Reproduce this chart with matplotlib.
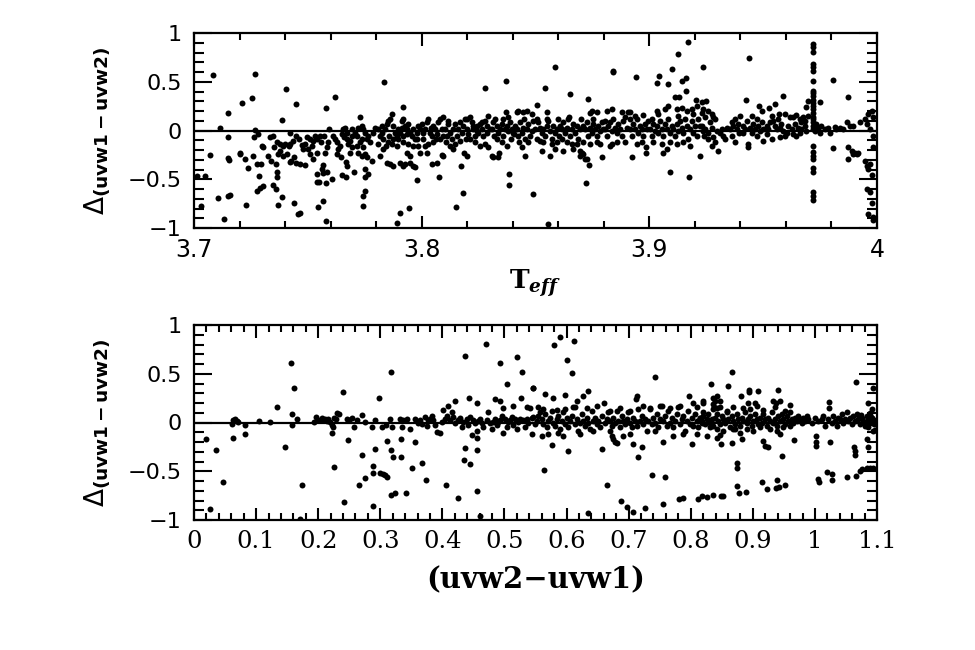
import matplotlib
matplotlib.use("Agg")
import matplotlib.pyplot as plt
from matplotlib.ticker import MultipleLocator

plt.rcParams["mathtext.fontset"] = "dejavusans"

# ---- top panel: Delta(uvw1-uvw2) vs log Teff ----
top_cool = [
    (3.7085, 0.57), (3.7012, -0.47), (3.7048, -0.465), (3.7029, -0.77), (3.707, -0.25),
    (3.7114, 0.03), (3.7148, 0.18), (3.715, -0.07), (3.715, -0.285), (3.7153, -0.30), (3.7107, -0.69),
    (3.715, -0.67), (3.716, -0.66), (3.7132, -0.91),
    (3.720, -0.225), (3.7203, -0.24), (3.7212, 0.285), (3.7224, -0.29), (3.7229, -0.76), (3.7239, -0.38),
    (3.7256, 0.33), (3.7258, -0.26), (3.727, 0.58), (3.7275, -0.34), (3.7294, -0.34), (3.7297, -0.155),
    (3.7304, -0.17), (3.7287, -0.47), (3.7275, -0.62), (3.729, -0.59), (3.7304, -0.565), (3.727, 0.01),
    (3.728, -0.03), (3.7265, -0.07),
    (3.7326, -0.26), (3.7334, -0.07), (3.7348, -0.05), (3.735, -0.17), (3.7359, -0.34), (3.7366, -0.42),
    (3.7366, -0.48), (3.7348, -0.56), (3.7359, -0.60), (3.737, -0.76), (3.7385, -0.68), (3.7385, 0.11),
    (3.7363, -0.12), (3.7378, -0.14), (3.7378, -0.21), (3.7392, -0.155), (3.7398, -0.14), (3.737, -0.24),
    (3.7392, -0.26), (3.734, -0.31),
    (3.7403, 0.43), (3.7448, 0.27), (3.744, -0.74), (3.7466, -0.84), (3.7458, -0.86), (3.7421, -0.32),
    (3.7428, -0.31), (3.7407, -0.24), (3.7416, -0.16), (3.7422, -0.14), (3.7436, -0.105), (3.745, -0.05),
    (3.746, -0.085), (3.745, -0.33), (3.7466, -0.34), (3.7488, -0.35), (3.748, -0.19), (3.7488, -0.14),
    (3.7473, -0.15), (3.7495, -0.07), (3.7422, -0.02), (3.7439, -0.275),
    (3.7546, -0.78), (3.7568, -0.72), (3.7578, -0.93), (3.7539, -0.53), (3.7549, -0.53), (3.7578, -0.54),
    (3.7539, -0.44), (3.7568, -0.43), (3.7586, -0.42), (3.7568, -0.35), (3.756, -0.39), (3.7578, 0.23),
    (3.751, -0.085), (3.7517, -0.155), (3.7524, -0.105), (3.7531, -0.05), (3.7542, -0.085), (3.7553, -0.05),
    (3.7556, -0.12), (3.7539, -0.225), (3.751, -0.24), (3.7502, -0.19), (3.7524, -0.29), (3.7575, -0.225),
    (3.7583, -0.17), (3.759, -0.12), (3.7571, -0.06), (3.7594, 0.015),
    (3.762, 0.34), (3.7605, -0.50), (3.7649, -0.46), (3.7668, -0.48), (3.7668, -0.32), (3.7673, -0.36),
    (3.7612, -0.05), (3.762, -0.085), (3.7627, -0.12), (3.7634, -0.19), (3.7641, -0.155), (3.7649, -0.035),
    (3.7656, 0.015), (3.7659, -0.07), (3.767, -0.02), (3.767, -0.085), (3.7678, -0.14), (3.7685, -0.105),
    (3.7685, -0.225), (3.7692, -0.05), (3.7696, -0.17), (3.7627, -0.24), (3.7644, -0.275), (3.7663, 0.03),
    (3.7696, 0.015),
    (3.7703, -0.42), (3.7729, 0.14), (3.7744, -0.67), (3.7744, -0.77), (3.7707, -0.02), (3.7714, -0.05),
    (3.7722, 0.03), (3.7729, -0.12), (3.7737, -0.085), (3.7714, -0.155), (3.7722, -0.225), (3.7737, -0.26),
    (3.7736, 0.05), (3.7744, 0.015), (3.7751, -0.02), (3.7758, -0.085), (3.7766, -0.05), (3.7773, -0.12),
    (3.7788, -0.02), (3.7795, 0.03), (3.7744, -0.17), (3.7751, -0.24), (3.7758, -0.275), (3.778, -0.31),
    (3.7751, -0.39), (3.7766, -0.445), (3.775, -0.48), (3.7751, -0.62),
    (3.7834, 0.50), (3.789, -0.95), (3.781, 0.015), (3.7817, -0.05), (3.7824, -0.02), (3.7831, -0.085),
    (3.7839, 0.015), (3.7846, 0.065), (3.7854, 0.10), (3.7861, 0.12), (3.7868, 0.17), (3.7876, 0.05),
    (3.7883, -0.02), (3.789, -0.05), (3.7897, 0.015), (3.7843, -0.155), (3.7846, -0.33), (3.7861, -0.34),
    (3.7875, -0.36), (3.7868, -0.14), (3.7817, -0.26), (3.7831, -0.19), (3.7853, -0.12), (3.781, -0.14),
    (3.789, -0.155), (3.7897, -0.085), (3.7824, 0.05), (3.7858, -0.05), (3.7875, -0.085),
    (3.7905, -0.84), (3.7916, 0.245), (3.7912, 0.10), (3.7919, 0.12), (3.7905, -0.33), (3.7916, -0.36),
    (3.7946, -0.79), (3.7927, -0.34), (3.795, -0.33), (3.796, -0.36), (3.797, -0.37), (3.7978, -0.51),
    (3.795, -0.26), (3.7934, -0.225), (3.7993, -0.225), (3.7985, -0.155), (3.7905, -0.02), (3.7912, 0.03),
    (3.7919, -0.05), (3.7927, 0.05), (3.7934, 0.015), (3.7941, 0.065), (3.7949, -0.02), (3.7956, -0.05),
    (3.7963, 0.015), (3.7971, -0.085), (3.7978, -0.02), (3.7985, 0.05), (3.7993, 0.015), (3.8, 0.065),
    (3.7916, -0.12), (3.7941, -0.14), (3.7963, -0.155), (3.7978, -0.085), (3.7934, -0.035),
]

top_mid = [
    (3.8075, -0.48), (3.8044, -0.34), (3.8066, -0.33), (3.8007, -0.085), (3.8015, 0.015), (3.8022, 0.085),
    (3.8029, 0.12), (3.8037, -0.02), (3.8044, -0.05), (3.8051, 0.05), (3.8059, 0.015), (3.8066, -0.035),
    (3.8073, 0.085), (3.808, 0.12), (3.8088, 0.015), (3.8095, 0.135), (3.8015, -0.155), (3.8029, -0.14),
    (3.8051, -0.12), (3.808, -0.085), (3.8022, -0.225), (3.8088, -0.25), (3.8095, -0.26), (3.8007, -0.02),
    (3.8039, 0.03), (3.8063, -0.085), (3.8092, -0.05),
    (3.815, -0.78), (3.8173, -0.36), (3.818, -0.64), (3.8197, -0.26), (3.8187, -0.225), (3.8102, 0.015),
    (3.811, -0.05), (3.8117, 0.065), (3.8124, -0.02), (3.8132, -0.085), (3.8139, 0.015), (3.8146, 0.065),
    (3.8154, -0.05), (3.8161, 0.015), (3.8168, 0.085), (3.8176, -0.02), (3.8183, 0.05), (3.819, 0.12),
    (3.8197, 0.015), (3.8107, -0.12), (3.8124, -0.155), (3.8146, -0.14), (3.8168, -0.105), (3.8117, 0.10),
    (3.8136, -0.19), (3.8195, -0.085),
    (3.828, 0.44), (3.8201, 0.12), (3.8212, 0.135), (3.822, 0.085), (3.8227, 0.015), (3.8234, -0.05),
    (3.8241, 0.05), (3.8249, -0.02), (3.8256, 0.065), (3.8263, 0.015), (3.8271, -0.05), (3.8278, 0.10),
    (3.8285, 0.05), (3.8293, 0.15), (3.83, 0.015), (3.8212, -0.085), (3.8234, -0.12), (3.8256, -0.155),
    (3.8278, -0.14), (3.8293, -0.17), (3.8307, -0.26), (3.8205, -0.035), (3.8224, 0.045), (3.8244, 0.0),
    (3.8266, 0.09), (3.8288, -0.025),
    (3.837, 0.51), (3.837, 0.19), (3.8385, -0.44), (3.8385, -0.555), (3.8315, -0.275), (3.8337, -0.275),
    (3.8341, -0.225), (3.8307, 0.015), (3.8315, 0.085), (3.8322, 0.12), (3.8329, 0.05), (3.8337, -0.02),
    (3.8344, 0.015), (3.8351, 0.065), (3.8358, -0.05), (3.8366, 0.015), (3.8373, 0.05), (3.838, 0.0),
    (3.8388, 0.085), (3.8395, 0.015), (3.8318, -0.05), (3.8332, -0.085), (3.8351, -0.12), (3.8373, -0.155),
    (3.8391, -0.085), (3.8358, 0.12), (3.838, 0.135), (3.84, -0.02),
    (3.8417, 0.19), (3.8425, 0.20), (3.8446, 0.19), (3.8461, 0.20), (3.8454, -0.26), (3.8439, -0.17),
    (3.8487, -0.65), (3.841, 0.05), (3.8417, 0.015), (3.8424, -0.05), (3.8432, 0.085), (3.8439, -0.02),
    (3.8446, 0.03), (3.8454, -0.085), (3.8461, 0.015), (3.8468, 0.065), (3.8476, -0.05), (3.8483, 0.0),
    (3.849, 0.10), (3.8429, -0.12), (3.8449, 0.12), (3.8405, -0.035), (3.8468, -0.12), (3.8483, 0.17),
    (3.8542, 0.44), (3.8586, 0.65), (3.8557, -0.96), (3.8549, 0.195), (3.8508, 0.26), (3.8505, 0.12),
    (3.8513, 0.085), (3.852, 0.03), (3.8527, -0.02), (3.8535, 0.015), (3.8542, -0.05), (3.8549, 0.05),
    (3.8557, 0.10), (3.8564, 0.0), (3.8571, -0.085), (3.8578, 0.05), (3.8586, -0.02), (3.8593, 0.015),
    (3.86, 0.12), (3.8527, -0.21), (3.8564, -0.265), (3.8586, -0.19), (3.8571, -0.14), (3.8535, -0.12),
    (3.8505, -0.085), (3.852, -0.105), (3.8593, -0.12), (3.8498, 0.015), (3.8549, 0.12),
    (3.8652, 0.38), (3.8622, -0.21), (3.8666, -0.19), (3.8696, -0.21), (3.8703, -0.225), (3.871, -0.24),
    (3.8696, -0.26), (3.8718, -0.29), (3.8608, 0.05), (3.8615, 0.015), (3.8622, 0.085), (3.863, -0.02),
    (3.8637, 0.03), (3.8644, 0.12), (3.8652, -0.05), (3.8659, 0.015), (3.8666, 0.065), (3.8674, -0.02),
    (3.8681, 0.05), (3.8688, -0.085), (3.8696, 0.015), (3.8699, 0.12), (3.8615, -0.085), (3.8637, -0.12),
    (3.8659, -0.14), (3.8681, -0.14), (3.8605, -0.05), (3.8649, 0.135),
    (3.8722, -0.54), (3.8732, 0.32), (3.8737, -0.35), (3.8725, -0.29), (3.874, 0.185), (3.8747, 0.20),
    (3.8769, 0.19), (3.871, 0.05), (3.8718, 0.015), (3.8725, 0.085), (3.8732, -0.05), (3.874, 0.03),
    (3.8747, -0.02), (3.8754, 0.065), (3.8761, 0.015), (3.8769, -0.05), (3.8776, 0.05), (3.8783, 0.0),
    (3.879, 0.085), (3.8798, 0.015), (3.871, -0.12), (3.874, -0.14), (3.8769, -0.12), (3.8791, -0.275),
    (3.8783, -0.14), (3.8754, 0.12),
    (3.8839, 0.61), (3.8842, 0.60), (3.8813, 0.20), (3.8835, 0.22), (3.8835, -0.14), (3.8827, -0.16),
    (3.8805, 0.015), (3.8813, -0.05), (3.882, 0.05), (3.8827, 0.085), (3.8835, 0.0), (3.8842, 0.12),
    (3.8849, 0.03), (3.8857, -0.02), (3.8864, 0.065), (3.8871, 0.015), (3.8878, -0.05), (3.8886, 0.10),
    (3.8893, 0.135), (3.89, 0.03), (3.8805, 0.10), (3.8857, -0.12), (3.8893, -0.115), (3.8879, 0.19),
    (3.8908, 0.19),
    (3.8942, 0.55), (3.8923, -0.275), (3.8915, 0.19), (3.8915, 0.015), (3.8923, -0.05), (3.893, 0.065),
    (3.8937, 0.015), (3.8944, 0.12), (3.8952, -0.02), (3.8959, 0.05), (3.8966, 0.015), (3.8974, -0.05),
    (3.8981, 0.065), (3.8988, 0.015), (3.8996, 0.10), (3.8986, -0.17), (3.8986, -0.225), (3.8944, -0.14),
    (3.8966, -0.12), (3.8915, 0.12), (3.8937, 0.15), (3.8974, 0.16),
]

top_hot = [
    (3.9044, 0.56), (3.9035, 0.49), (3.908, 0.48), (3.9098, 0.63), (3.9032, 0.20), (3.904, 0.17),
    (3.9069, 0.22), (3.9083, 0.255), (3.909, -0.42), (3.9062, -0.225), (3.9076, -0.19), (3.9003, 0.015),
    (3.901, -0.05), (3.9018, 0.065), (3.9025, 0.0), (3.9032, 0.05), (3.904, -0.02), (3.9047, 0.10),
    (3.9054, 0.015), (3.9062, -0.05), (3.9069, 0.065), (3.9076, 0.015), (3.9083, 0.12), (3.9091, -0.02),
    (3.9098, 0.05), (3.9018, -0.12), (3.9054, -0.14), (3.9091, -0.12), (3.901, 0.12),
    (3.9127, 0.785), (3.9171, 0.91), (3.9142, 0.51), (3.916, 0.545), (3.916, 0.41), (3.9113, 0.345),
    (3.9132, 0.34), (3.9176, -0.48), (3.912, 0.22), (3.9142, 0.235), (3.9164, 0.20), (3.9186, 0.22),
    (3.9105, 0.015), (3.9113, -0.05), (3.912, 0.065), (3.9127, 0.0), (3.9135, 0.10), (3.9142, 0.03),
    (3.9149, -0.02), (3.9157, 0.12), (3.9164, 0.05), (3.9171, -0.085), (3.9178, 0.015), (3.9186, 0.10),
    (3.9193, -0.02), (3.92, 0.05), (3.912, -0.14), (3.9149, -0.12), (3.9178, -0.155), (3.9127, 0.15),
    (3.9193, 0.17),
    (3.9205, 0.315), (3.9237, 0.65), (3.9223, -0.26), (3.9208, 0.255), (3.9215, 0.12), (3.9222, 0.05),
    (3.923, 0.185), (3.9237, 0.0), (3.9208, -0.05), (3.923, 0.29), (3.9251, 0.30), (3.9237, 0.22),
    (3.9259, 0.20), (3.9273, 0.17), (3.9281, 0.145), (3.9288, 0.12), (3.9266, 0.085), (3.9244, 0.135),
    (3.923, 0.05), (3.9244, 0.015), (3.9259, -0.02), (3.9273, 0.03), (3.9295, 0.0), (3.924, -0.05),
    (3.9259, -0.085), (3.9273, -0.155), (3.9288, -0.12), (3.9302, -0.21), (3.9278, -0.07),
    (3.931, -0.02), (3.9317, 0.015), (3.9325, -0.05), (3.9339, 0.03), (3.9354, 0.015), (3.9361, 0.085),
    (3.9368, 0.05), (3.9376, 0.12), (3.9383, 0.015), (3.939, 0.065), (3.94, 0.15), (3.9376, -0.12),
    (3.9332, -0.085), (3.9361, -0.05), (3.9395, -0.02),
    (3.9439, 0.74), (3.9424, 0.315), (3.9434, -0.14), (3.9434, -0.17), (3.9483, 0.25), (3.9493, 0.20),
    (3.9412, 0.05), (3.942, 0.015), (3.9427, 0.10), (3.9442, 0.03), (3.9449, 0.15), (3.9456, 0.065),
    (3.9464, 0.015), (3.9471, 0.12), (3.9478, 0.05), (3.9486, 0.0), (3.9493, 0.085), (3.95, 0.015),
    (3.9449, -0.02), (3.9471, -0.05), (3.95, -0.105), (3.9412, -0.02),
    (3.9527, 0.23), (3.9551, 0.27), (3.9588, 0.36), (3.9537, 0.15), (3.9573, 0.03), (3.9515, 0.05),
    (3.9522, 0.015), (3.953, 0.085), (3.9544, 0.10), (3.9559, 0.015), (3.9566, 0.12), (3.958, 0.065),
    (3.9588, 0.0), (3.9595, 0.17), (3.9515, -0.035), (3.9537, -0.085), (3.9573, -0.07), (3.9595, -0.05),
    (3.9551, 0.05), (3.957, 0.17),
    (3.969, 0.24), (3.9698, 0.305), (3.9617, 0.135), (3.9632, 0.145), (3.9646, 0.16), (3.9661, 0.12),
    (3.9668, 0.085), (3.9676, 0.135), (3.9683, 0.10), (3.9698, 0.15), (3.961, 0.05), (3.9625, 0.015),
    (3.9639, 0.065), (3.9654, 0.03), (3.9668, 0.015), (3.9683, 0.05), (3.9603, -0.02), (3.9632, -0.035),
    (3.9661, -0.02), (3.969, 0.0), (3.9646, -0.05),
    (3.9749, 0.29), (3.9808, 0.52), (3.9742, 0.03), (3.9756, 0.05), (3.9771, 0.015), (3.9786, 0.03),
    (3.9793, -0.02), (3.9749, -0.02), (3.9805, -0.18), (3.9727, 0.0), (3.9734, 0.065),
    (3.9874, 0.34), (3.9866, 0.09), (3.9874, -0.17), (3.9888, -0.21), (3.9895, -0.24), (3.9903, -0.23),
    (3.991, -0.24), (3.9917, -0.225), (3.9874, -0.29), (3.9837, 0.03), (3.9852, 0.015), (3.9881, 0.05),
    (3.9822, 0.015), (3.9815, 0.04), (3.9895, 0.05),
    (3.9925, 0.085), (3.9947, 0.12), (3.9961, 0.17), (3.9976, 0.20), (3.9983, 0.145), (3.9954, 0.065),
    (3.9969, 0.015), (3.9983, -0.05), (3.9954, -0.36), (3.9961, -0.39), (3.9969, -0.34), (3.9976, -0.45),
    (3.9954, -0.60), (3.9969, -0.63), (3.9976, -0.74), (3.9961, -0.86), (3.9983, -0.89), (3.9983, -0.92),
    (3.9947, -0.31), (3.9983, -0.17),
]

# the vertical stripe of points at log Teff ~ 3.972
column_teff = 3.972
column_delta = [0.887, 0.853, 0.809, 0.682, 0.655, 0.614, 0.511, 0.409, 0.385, 0.357, 0.313, 0.282,
                0.255, 0.221, 0.176, 0.145, 0.118, 0.084, 0.05, 0.015, -0.156, -0.224, -0.258,
                -0.292, -0.378, -0.429, -0.634, -0.668, -0.709]

# ---- bottom panel: Delta(uvw1-uvw2) vs (uvw2-uvw1) colour ----
bot_blue = [
    (0.0258, -0.889), (0.0188, -0.174), (0.0349, -0.284), (0.0472, -0.609), (0.0607, -0.02), (0.0633, 0.024),
    (0.066, 0.031), (0.0687, 0.017), (0.0714, 0.007), (0.0623, -0.164), (0.0821, -0.027), (0.0821, -0.113),
    (0.1047, 0.014), (0.1224, 0.007), (0.1342, 0.154), (0.1466, -0.25), (0.1562, 0.612), (0.1573, 0.085),
    (0.1573, -0.027), (0.1616, 0.349), (0.1653, 0.034), (0.1734, -0.643), (0.171, -0.99),
    (0.1933, 0.007), (0.1965, 0.058), (0.2002, 0.024), (0.2056, 0.051), (0.2083, 0.024), (0.211, 0.041),
    (0.2137, 0.017), (0.2164, 0.031), (0.219, 0.007), (0.2217, -0.027), (0.2244, -0.044), (0.2255, 0.048),
    (0.2282, 0.031), (0.2298, 0.099), (0.2341, 0.092), (0.2217, -0.106), (0.226, -0.455), (0.2394, 0.308),
    (0.2416, -0.82), (0.2486, -0.181), (0.2459, 0.031), (0.2502, 0.024), (0.2539, 0.051), (0.2582, -0.051),
    (0.262, 0.024), (0.27, 0.075), (0.2711, -0.335), (0.2663, -0.636), (0.2754, -0.574),
    (0.2889, -0.855), (0.2916, -0.274), (0.2878, -0.444), (0.2889, -0.523), (0.298, 0.25), (0.2996, -0.523),
    (0.3039, -0.53), (0.3077, -0.54), (0.3103, -0.557), (0.3114, -0.188), (0.3168, -0.284), (0.32, -0.352),
    (0.3173, 0.52), (0.3168, -0.745), (0.3238, -0.728), (0.3329, -0.174), (0.3329, -0.352), (0.341, -0.721),
    (0.3517, -0.465), (0.356, -0.205), (0.3667, -0.42), (0.3732, -0.59),
    (0.2755, 0.007), (0.2916, 0.024), (0.2862, -0.044), (0.3023, -0.051), (0.3093, -0.027), (0.3157, 0.041),
    (0.3184, -0.051), (0.3318, 0.041), (0.3345, -0.044), (0.3372, 0.024), (0.3426, 0.031), (0.3479, -0.062),
    (0.356, 0.034), (0.3613, -0.01), (0.364, 0.024), (0.3667, -0.017), (0.3721, 0.058), (0.3748, -0.038),
    (0.3774, 0.024), (0.3801, 0.041), (0.3828, 0.068), (0.3855, 0.024), (0.3882, -0.027), (0.3909, -0.096),
    (0.3962, -0.106), (0.3989, 0.007),
]

bot_mid = [
    (0.4059, -0.639), (0.4258, -0.779), (0.4365, -0.26), (0.4354, -0.38), (0.4446, -0.427), (0.4553, -0.284),
    (0.4472, -0.13), (0.4553, -0.164), (0.4564, -0.085), (0.4553, -0.704), (0.4607, -0.957), (0.4365, 0.68),
    (0.4698, 0.803), (0.4929, 0.615), (0.5197, 0.673), (0.5289, 0.516), (0.5036, 0.40), (0.5455, 0.356),
    (0.4848, 0.246), (0.4929, 0.219), (0.4435, 0.253), (0.4564, 0.195), (0.4204, 0.222), (0.4097, 0.168),
    (0.4016, 0.133), (0.415, 0.109), (0.5267, 0.253), (0.5143, 0.168), (0.5358, 0.154), (0.5412, 0.144),
    (0.4982, 0.144), (0.473, 0.109),
    (0.4043, 0.038), (0.4081, 0.068), (0.4124, 0.024), (0.4177, 0.058), (0.4204, -0.01), (0.4258, 0.024),
    (0.4285, 0.048), (0.4311, -0.044), (0.4338, 0.007), (0.4392, 0.034), (0.4419, -0.027), (0.4446, 0.058),
    (0.4499, 0.024), (0.4526, -0.01), (0.458, 0.014), (0.4607, 0.041), (0.4634, -0.01), (0.466, -0.044),
    (0.4714, 0.024), (0.4768, -0.003), (0.4795, -0.062), (0.4821, 0.007), (0.4848, 0.034), (0.4875, -0.027),
    (0.4902, 0.007), (0.4929, 0.024), (0.4956, 0.065), (0.4982, -0.106), (0.5009, 0.041), (0.5036, -0.044),
    (0.5063, 0.007), (0.509, 0.024), (0.5117, 0.058), (0.5143, -0.027), (0.517, 0.041), (0.5197, -0.062),
    (0.5224, 0.007), (0.5251, 0.034), (0.5305, 0.024), (0.5331, -0.044), (0.5358, 0.041), (0.5385, -0.01),
    (0.5439, -0.113), (0.5466, 0.058),
    (0.5798, 0.797), (0.5894, 0.882), (0.612, 0.831), (0.6002, 0.643), (0.6082, 0.503), (0.5465, 0.349),
    (0.5653, 0.291), (0.5787, 0.256), (0.5975, 0.284), (0.627, 0.274), (0.6173, 0.222), (0.6603, 0.205),
    (0.635, 0.318), (0.7424, 0.462), (0.7129, 0.274), (0.7118, 0.239), (0.7977, 0.274), (0.8042, 0.195),
    (0.8203, 0.205), (0.5642, -0.485), (0.576, -0.229), (0.6028, -0.291), (0.6565, -0.274), (0.6657, -0.643),
    (0.7156, -0.352), (0.7064, -0.222), (0.722, -0.25), (0.737, -0.54), (0.7585, -0.557), (0.7559, -0.205),
    (0.8015, -0.222), (0.6871, -0.803), (0.6979, -0.862), (0.7064, -0.913), (0.7263, -0.879), (0.635, -0.933),
    (0.7559, -0.838), (0.7811, -0.786), (0.788, -0.779), (0.8111, -0.786), (0.6699, -0.085), (0.6726, -0.137),
    (0.6753, -0.171), (0.678, -0.195), (0.6818, -0.215),
    (0.5438, 0.051), (0.5492, -0.017), (0.5518, 0.017), (0.5545, 0.068), (0.5572, 0.103), (0.5599, 0.034),
    (0.5626, -0.017), (0.5653, 0.085), (0.568, -0.051), (0.5706, 0.017), (0.5733, 0.051), (0.576, 0.12),
    (0.5787, 0.0), (0.5814, -0.034), (0.5841, 0.034), (0.5867, 0.068), (0.5894, -0.068), (0.5921, 0.017),
    (0.5948, 0.103), (0.5975, -0.017), (0.6002, 0.051), (0.6028, -0.051), (0.6055, 0.017), (0.6082, 0.068),
    (0.6109, 0.154), (0.6136, -0.017), (0.6163, 0.034), (0.619, -0.085), (0.6216, 0.0), (0.6243, 0.085),
    (0.627, 0.017), (0.6297, -0.034), (0.6324, 0.051), (0.635, 0.0), (0.6377, -0.068), (0.6404, 0.12),
    (0.6431, 0.017), (0.6458, 0.051), (0.6485, -0.017), (0.6512, 0.017), (0.6538, -0.051), (0.6565, 0.068),
    (0.6619, 0.0), (0.6646, 0.034), (0.6673, 0.103), (0.6699, 0.017), (0.6726, -0.034), (0.6753, 0.051),
    (0.678, 0.0), (0.6807, 0.12), (0.6834, 0.017), (0.6861, -0.051), (0.6887, 0.068), (0.6914, 0.017),
    (0.6941, -0.017), (0.6968, 0.034), (0.6995, 0.103), (0.7022, 0.0), (0.7049, -0.051), (0.7075, 0.051),
    (0.7102, 0.017), (0.7129, -0.034), (0.7156, 0.137), (0.7183, 0.017), (0.721, 0.068), (0.7236, -0.017),
    (0.7263, 0.034), (0.729, -0.085), (0.7317, 0.017), (0.7344, 0.137), (0.737, -0.017), (0.7397, 0.051),
    (0.7424, 0.0), (0.7451, 0.085), (0.7478, -0.051), (0.7505, 0.034), (0.7532, 0.171), (0.7559, 0.017),
    (0.7585, 0.068), (0.7612, -0.034), (0.7639, 0.12), (0.7666, 0.0), (0.7693, 0.051), (0.772, -0.051),
    (0.7746, 0.017), (0.7773, 0.085), (0.78, 0.154), (0.7827, -0.017), (0.7854, 0.034), (0.7881, 0.068),
    (0.7907, -0.085), (0.7934, 0.017), (0.7961, 0.12), (0.7988, -0.017), (0.8015, 0.051), (0.8042, -0.034),
    (0.8069, 0.085), (0.8095, 0.017), (0.8122, -0.051), (0.8149, 0.051), (0.8176, 0.0), (0.8203, 0.103),
    (0.5599, -0.137), (0.5706, -0.12), (0.5867, -0.103), (0.5948, -0.137), (0.6216, -0.12), (0.6431, -0.085),
    (0.6914, -0.137), (0.7022, -0.12), (0.7424, -0.085), (0.772, -0.137), (0.7881, -0.12), (0.8095, -0.12),
    (0.5545, 0.154), (0.5626, 0.137), (0.5841, 0.126), (0.5975, 0.137), (0.6136, 0.161), (0.6324, 0.147),
    (0.6485, 0.171), (0.6699, 0.12), (0.6861, 0.147), (0.7022, 0.12), (0.7236, 0.171), (0.7336, 0.147),
    (0.7505, 0.171), (0.7666, 0.147), (0.7827, 0.171), (0.8095, 0.161),
]

bot_red = [
    (0.866, 0.513), (0.8606, 0.376), (0.8322, 0.393), (0.8418, 0.273), (0.8204, 0.222), (0.8365, 0.256),
    (0.8392, 0.222), (0.8365, 0.188), (0.8376, 0.164), (0.8418, 0.144), (0.8472, 0.222), (0.8805, 0.267),
    (0.8944, 0.335), (0.8944, 0.308), (0.909, 0.325), (0.8928, 0.195), (0.9036, 0.205), (0.9331, 0.222),
    (0.9374, 0.198), (0.9412, 0.335), (0.9438, 0.222), (1.0233, 0.212), (1.0233, 0.144), (1.0662, 0.42),
    (1.0942, 0.349), (1.0861, 0.205),
    (0.8257, -0.137), (0.8418, -0.154), (0.8472, -0.13), (0.8483, -0.222), (0.866, -0.212), (0.8714, -0.068),
    (0.8821, -0.171), (0.8751, -0.417), (0.8751, -0.465), (0.8751, -0.656), (0.8784, -0.718), (0.8885, -0.708),
    (0.9143, -0.615), (0.9224, -0.677), (0.9374, -0.667), (0.9427, -0.66), (0.9519, -0.643), (0.9395, -0.588),
    (0.917, -0.188), (0.9197, -0.239), (0.9251, -0.25), (0.9465, -0.342), (0.9438, -0.12), (0.9664, -0.178),
    (1.0018, -0.137), (1.0018, -0.198), (1.0018, -0.239), (1.0244, -0.198), (1.0056, -0.58), (1.0072, -0.608),
    (1.019, -0.506), (1.027, -0.53), (1.027, -0.588), (1.0512, -0.557), (1.0657, -0.547), (1.0727, -0.496),
    (1.0754, -0.479), (1.0834, -0.469), (1.0888, -0.462), (1.0942, -0.462), (1.063, -0.256), (1.064, -0.291),
    (1.064, -0.335), (1.0834, -0.171), (1.085, -0.256), (1.0942, -0.085), (0.8177, -0.752), (0.8257, -0.769),
    (0.8365, -0.746), (0.8483, -0.752), (0.8515, -0.752),
    (0.815, 0.051), (0.8177, 0.017), (0.8204, 0.068), (0.8231, -0.017), (0.8257, 0.034), (0.8284, 0.085),
    (0.8311, 0.0), (0.8338, 0.034), (0.8365, -0.034), (0.8392, 0.051), (0.8418, 0.085), (0.8445, 0.017),
    (0.8472, -0.017), (0.8499, 0.068), (0.8526, 0.034), (0.8553, 0.0), (0.8579, 0.103), (0.8606, 0.034),
    (0.8633, -0.051), (0.866, 0.068), (0.8687, 0.017), (0.8714, -0.017), (0.8741, 0.085), (0.8767, 0.034),
    (0.8794, -0.034), (0.8821, 0.051), (0.8848, 0.017), (0.8875, 0.103), (0.8902, 0.0), (0.8928, 0.034),
    (0.8955, 0.068), (0.8982, -0.034), (0.9009, 0.017), (0.9036, 0.085), (0.9063, 0.034), (0.909, -0.017),
    (0.9116, 0.051), (0.9143, 0.0), (0.917, 0.085), (0.9197, 0.034), (0.9224, -0.034), (0.9251, 0.051),
    (0.9277, 0.017), (0.9304, 0.103), (0.9331, 0.0), (0.9358, 0.034), (0.9385, -0.034), (0.9412, 0.068),
    (0.9438, 0.017), (0.9465, 0.085), (0.9492, 0.034), (0.9519, -0.017), (0.9546, 0.068), (0.9573, 0.017),
    (0.9599, 0.103), (0.9626, 0.034), (0.9653, 0.0), (0.968, 0.051), (0.9707, 0.017), (0.9734, 0.068),
    (0.9761, 0.034), (0.9787, 0.0), (0.9814, 0.051), (0.9841, 0.017), (0.9868, 0.068), (0.9895, 0.034),
    (0.9948, 0.0), (1.0002, 0.051), (1.0056, 0.017), (1.0109, 0.034), (1.0136, 0.068), (1.0163, -0.034),
    (1.0217, 0.034), (1.027, 0.0), (1.0297, 0.068), (1.0324, 0.017), (1.0351, -0.034), (1.0378, 0.051),
    (1.0405, 0.034), (1.0432, 0.085), (1.0458, 0.0), (1.0485, 0.034), (1.0512, 0.103), (1.0539, 0.017),
    (1.0566, 0.051), (1.0593, -0.017), (1.062, 0.068), (1.0646, 0.017), (1.0673, 0.085), (1.07, 0.034),
    (1.0727, -0.017), (1.0754, 0.051), (1.0781, 0.017), (1.0807, -0.034), (1.0834, 0.068), (1.0861, 0.034),
    (1.0888, 0.0), (1.0915, 0.051), (1.0942, 0.017),
    (0.8311, -0.051), (0.8418, -0.068), (0.8526, -0.085), (0.8687, -0.068), (0.8794, -0.103), (0.8902, -0.068),
    (0.9009, -0.085), (0.9116, -0.051), (0.9277, -0.068), (0.9385, -0.085), (0.9492, -0.051), (0.9599, -0.034),
    (0.8365, 0.137), (0.8472, 0.164), (0.8579, 0.12), (0.8687, 0.154), (0.8848, 0.144), (0.8955, 0.137),
    (0.9063, 0.171), (0.917, 0.13), (0.9358, 0.154), (0.9519, 0.12), (0.9599, 0.178),
    (1.085, -0.05), (1.09, 0.06), (1.095, -0.02), (1.098, 0.03), (1.08, 0.0), (1.088, 0.1), (1.097, -0.08),
    (1.075, 0.08), (1.092, 0.14),
]

y_ticks = [-1, -0.5, 0, 0.5, 1]
y_ticklabels = ["\u22121", "\u22120.5", "0", "0.5", "1"]
teff_ticks = [3.7, 3.8, 3.9, 4.0]
teff_ticklabels = ["3.7", "3.8", "3.9", "4"]
col_ticks = [0, 0.1, 0.2, 0.3, 0.4, 0.5, 0.6, 0.7, 0.8, 0.9, 1.0, 1.1]
col_ticklabels = ["0", "0.1", "0.2", "0.3", "0.4", "0.5", "0.6", "0.7", "0.8", "0.9", "1", "1.1"]

fig = plt.figure(figsize=(9.75, 6.5), dpi=100)
ax1 = fig.add_axes([0.199, 0.649, 0.7005, 0.300])
ax2 = fig.add_axes([0.199, 0.200, 0.7005, 0.300])

ylab = r"$\Delta_{\mathbf{(uvw1-uvw2)}}$"
MS = 4.3


def style(ax, xtick_font, xtick_size):
    for s in ax.spines.values():
        s.set_linewidth(1.6)
    ax.set_ylim(-1, 1)
    ax.yaxis.set_minor_locator(MultipleLocator(0.1))
    ax.xaxis.set_minor_locator(MultipleLocator(0.02))
    ax.tick_params(which="both", direction="in", top=True, right=True, width=1.5, colors="black")
    ax.tick_params(axis="x", which="major", length=9, pad=7)
    ax.tick_params(axis="x", which="minor", length=5)
    ax.tick_params(axis="y", which="major", length=13, pad=9)
    ax.tick_params(axis="y", which="minor", length=7)
    ax.set_yticks(y_ticks)
    ax.set_yticklabels(y_ticklabels, fontsize=16, family="DejaVu Sans")
    for lab in ax.get_xticklabels():
        lab.set_fontsize(xtick_size)
        lab.set_family(xtick_font)
    ax.axhline(0, color="black", lw=1.6, zorder=1)
    ax.set_ylabel(ylab, fontsize=19)
    ax.yaxis.set_label_coords(-0.12, 0.5)


# top panel
for group in (top_cool, top_mid, top_hot):
    xs = [p[0] for p in group]
    ys = [p[1] for p in group]
    ax1.plot(xs, ys, "o", color="black", ms=MS, mew=0, zorder=2)
ax1.plot([column_teff] * len(column_delta), column_delta, "o", color="black", ms=MS, mew=0, zorder=2)
ax1.set_xlim(3.7, 4.0)
ax1.set_xticks(teff_ticks)
ax1.set_xticklabels(teff_ticklabels)
style(ax1, "DejaVu Sans", 17)
ax1.set_xlabel(r"$\mathbf{T}_{\mathbfit{eff}}$", fontsize=19, math_fontfamily="dejavuserif")
ax1.xaxis.set_label_coords(0.5, -0.2)

# bottom panel
for group in (bot_blue, bot_mid, bot_red):
    xs = [p[0] for p in group]
    ys = [p[1] for p in group]
    ax2.plot(xs, ys, "o", color="black", ms=MS, mew=0, zorder=2)
ax2.set_xlim(0, 1.1)
ax2.set_xticks(col_ticks)
ax2.set_xticklabels(col_ticklabels)
style(ax2, "DejaVu Serif", 17.5)
ax2.set_xlabel("(uvw2\u2212uvw1)", fontsize=21, family="DejaVu Serif", fontweight="bold")
ax2.xaxis.set_label_coords(0.5, -0.23)

fig.savefig("out.png", dpi=100)
